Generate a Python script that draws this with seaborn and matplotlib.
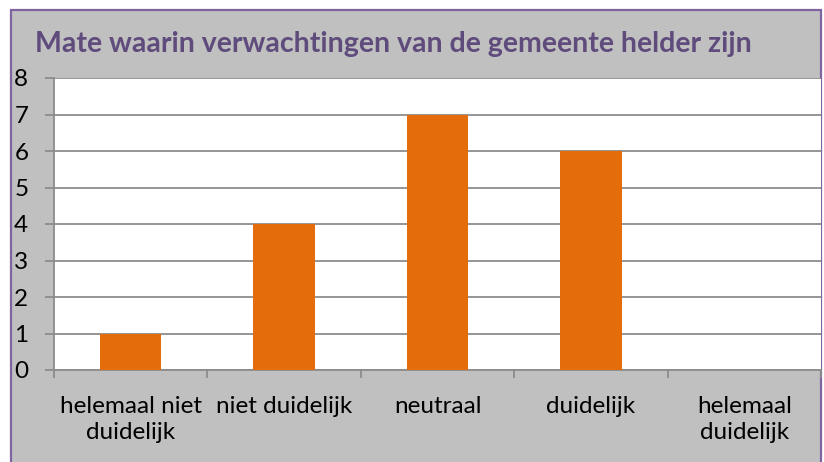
import numpy as np
import pandas as pd
import matplotlib
matplotlib.use("Agg")
import matplotlib.pyplot as plt
import seaborn as sns
from matplotlib.patches import Rectangle

# data
categories = ["helemaal niet\nduidelijk", "niet duidelijk", "neutraal", "duidelijk", "helemaal\nduidelijk"]
counts = [1, 4, 7, 6, 0]
y_ticks = [0, 1, 2, 3, 4, 5, 6, 7, 8]
title = "Mate waarin verwachtingen van de gemeente helder zijn"

sns.set_style("white", {"ytick.left": True, "xtick.bottom": True})
plt.rcParams["font.family"] = ["Lato", "DejaVu Sans"]

W, H = 824, 462
fig = plt.figure(figsize=(W / 100, H / 100), dpi=100, facecolor="white")

# grey chart frame with purple border (runs off the bottom of the image)
fig.patches.append(Rectangle((11 / W, -0.05), 810 / W, 1.05 - 10 / H,
                             transform=fig.transFigure, facecolor="#c0c0c0",
                             edgecolor="#7e65a0", linewidth=1.6, zorder=-5))

ax = fig.add_axes([54 / W, (H - 370) / H, 767 / W, (370 - 78) / H])
ax.set_facecolor("white")

df = pd.DataFrame({"cat": categories, "n": counts})
sns.barplot(data=df, x="cat", y="n", color="#e46c0a", width=0.4,
            saturation=1, linewidth=0, ax=ax, zorder=3)

ax.set_ylim(0, 8)
ax.set_xlim(-0.5, len(categories) - 0.5)
ax.set_yticks(y_ticks)
ax.yaxis.grid(True, color="#8c8c8c", linewidth=1.3, zorder=1)
ax.set_axisbelow(True)

ax.set_xlabel("")
ax.set_ylabel("")
ax.tick_params(axis="y", which="major", direction="out", length=6.5, width=1.3,
               color="#8c8c8c", pad=12, labelsize=17.5, labelcolor="black", left=True)
ax.set_xticks(np.arange(len(categories)))
ax.set_xticklabels(categories, ha="center", linespacing=1.3)
ax.tick_params(axis="x", which="major", length=0, pad=19, labelsize=17.5, labelcolor="black")
ax.set_xticks(np.arange(-0.5, len(categories)), minor=True)
ax.tick_params(axis="x", which="minor", direction="out", length=6, width=1.3,
               color="#8c8c8c", bottom=True)

for side in ["top", "right"]:
    ax.spines[side].set_visible(False)
for side in ["left", "bottom"]:
    ax.spines[side].set_color("#8c8c8c")
    ax.spines[side].set_linewidth(1.3)

fig.text(35 / W, 1 - 44 / H, title, color="#5f4b7c", fontsize=20.5,
         fontweight="bold", va="center", ha="left")

fig.savefig("out.png", dpi=100, facecolor="white")
